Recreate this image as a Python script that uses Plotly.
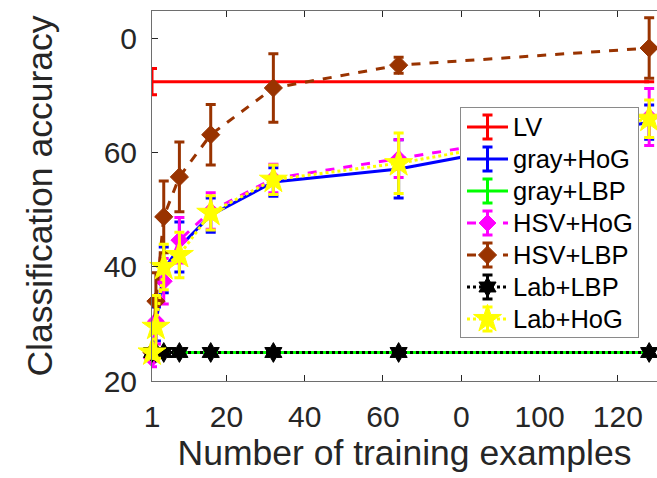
import plotly.graph_objects as go

# ---------------- data ----------------
train_examples = [1, 2, 4, 8, 16, 32, 64, 128]

lv_x = [1, 128]
lv_acc = [72.5, 72.5]
lv_err = [2.3, 0.0]

gray_hog = [25.0, 30.0, 39.5, 43.5, 49.1, 54.9, 57.2, 65.4]
gray_hog_err = [0.5, 3.0, 4.0, 4.4, 3.0, 2.5, 5.1, 3.0]

gray_lbp = [25.0, 25.0, 25.0, 25.0, 25.0, 25.0, 25.0, 25.0]
gray_lbp_err = [0.0, 0.0, 0.0, 0.0, 0.0, 0.0, 0.0, 0.0]

hsv_hog = [24.0, 30.5, 37.5, 44.7, 49.8, 55.5, 59.0, 66.3]
hsv_hog_err = [1.5, 4.0, 4.0, 4.0, 3.2, 2.5, 3.3, 5.0]

hsv_lbp = [25.0, 34.0, 48.8, 55.8, 63.2, 71.4, 75.4, 78.4]
hsv_lbp_err = [1.0, 5.0, 6.3, 6.1, 5.3, 6.0, 1.4, 5.3]

lab_lbp = [25.0, 25.0, 25.0, 25.0, 25.0, 25.0, 25.0, 25.0]
lab_lbp_err = [0.0, 0.0, 0.0, 0.0, 0.0, 0.0, 0.0, 0.0]

lab_hog = [25.0, 29.5, 40.0, 42.1, 49.5, 55.3, 58.2, 66.0]
lab_hog_err = [1.0, 5.5, 4.0, 4.0, 3.0, 2.6, 5.3, 3.3]

x_tickvals = [1, 20, 40, 60, 80, 100, 120]
x_ticktext = ["1", "20", "40", "60", "0", "100", "120"]
y_tickvals = [20, 40, 60, 80]
y_ticktext = ["20", "40", "60", "0"]

series_names = ["LV", "gray+HoG", "gray+LBP", "HSV+HoG", "HSV+LBP", "Lab+LBP", "Lab+HoG"]

# ---------------- styles ----------------
FONT = "Liberation Sans, Arial, Helvetica, sans-serif"
styles = {
    "LV":       dict(color="#FF0000", dash="solid", symbol=None, size=0),
    "gray+HoG": dict(color="#0000FF", dash="solid", symbol=None, size=0),
    "gray+LBP": dict(color="#00FF00", dash="solid", symbol=None, size=0),
    "HSV+HoG":  dict(color="#FF00FF", dash="dash", symbol="diamond", size=13),
    "HSV+LBP":  dict(color="#993300", dash="dash", symbol="diamond", size=14),
    "Lab+LBP":  dict(color="#000000", dash="dot", symbol="hexagram", size=15),
    "Lab+HoG":  dict(color="#FFFF00", dash="dot", symbol="star", size=21),
}
data_map = {
    "LV": (lv_x, lv_acc, lv_err),
    "gray+HoG": (train_examples, gray_hog, gray_hog_err),
    "gray+LBP": (train_examples, gray_lbp, gray_lbp_err),
    "HSV+HoG": (train_examples, hsv_hog, hsv_hog_err),
    "HSV+LBP": (train_examples, hsv_lbp, hsv_lbp_err),
    "Lab+LBP": (train_examples, lab_lbp, lab_lbp_err),
    "Lab+HoG": (train_examples, lab_hog, lab_hog_err),
}

fig = go.Figure()

for name in series_names:
    xs, ys, es = data_map[name]
    st = styles[name]
    mode = "lines+markers" if st["symbol"] else "lines"
    marker = dict(color=st["color"], size=st["size"], symbol=st["symbol"] or "circle",
                  line=dict(color=st["color"], width=1))
    fig.add_trace(go.Scatter(
        x=xs, y=ys, mode=mode, name=name, showlegend=False,
        line=dict(color=st["color"], width=3, dash=st["dash"]),
        marker=marker,
        error_y=dict(type="data", array=es, color=st["color"], thickness=3, width=5, visible=True),
        cliponaxis=False,
        xaxis="x", yaxis="y",
    ))

# ---------------- legend drawn in an inset axes ----------------
W, H = 657, 478
ml, mr, mt, mb = 152, 0, 11, 97
pw, ph = W - ml - mr, H - mt - mb
box_l, box_r, box_t, box_b = 461, 638, 108, 337
dx0, dx1 = (box_l - ml) / pw, (box_r - ml) / pw
dy0, dy1 = (H - mb - box_b) / ph, (H - mb - box_t) / ph
box_h = box_b - box_t
first_y, step = 127, 32

fig.add_trace(go.Scatter(x=[0, 1, 1, 0, 0], y=[0, 0, box_h, box_h, 0], fill="toself",
                         fillcolor="white", mode="lines", line=dict(width=0),
                         showlegend=False, hoverinfo="skip", xaxis="x2", yaxis="y2"))

sym_x0, sym_x1 = (467 - box_l) / (box_r - box_l), (508 - box_l) / (box_r - box_l)
sym_xc = (sym_x0 + sym_x1) / 2
text_x = (511 - box_l) / (box_r - box_l)

for i, name in enumerate(series_names):
    st = styles[name]
    yy = box_b - (first_y + step * i)
    fig.add_trace(go.Scatter(x=[sym_x0, sym_x1], y=[yy, yy], mode="lines",
                             line=dict(color=st["color"], width=3, dash=st["dash"]),
                             showlegend=False, hoverinfo="skip", xaxis="x2", yaxis="y2"))
    mk = dict(color=st["color"], size=st["size"] if st["symbol"] else 1,
              symbol=st["symbol"] or "circle", line=dict(color=st["color"], width=1))
    fig.add_trace(go.Scatter(x=[sym_xc], y=[yy], mode="markers", marker=mk,
                             error_y=dict(type="data", array=[12], color=st["color"],
                                          thickness=3, width=5),
                             showlegend=False, hoverinfo="skip", xaxis="x2", yaxis="y2"))
    fig.add_annotation(x=text_x, y=yy, xref="x2", yref="y2", text=name, showarrow=False,
                       xanchor="left", yanchor="middle",
                       font=dict(family=FONT, size=25.5, color="#000000"))

axis_common = dict(showgrid=False, zeroline=False, showline=True, linecolor="#6e6e6e",
                   linewidth=1, ticks="inside", ticklen=6, tickcolor="#262626",
                   tickfont=dict(family=FONT, size=30, color="#262626"))

fig.update_layout(
    width=W, height=H,
    margin=dict(l=ml, r=mr, t=mt, b=mb),
    paper_bgcolor="white", plot_bgcolor="white",
    font=dict(family=FONT, color="#262626"),
    xaxis=dict(range=[1, 130], tickvals=x_tickvals, ticktext=x_ticktext, mirror="ticks",
               ticklabelstandoff=9,
               title=dict(text="Number of training examples",
                          font=dict(family=FONT, size=35.5, color="#262626"), standoff=8),
               **axis_common),
    yaxis=dict(range=[20, 84.9], tickvals=y_tickvals, ticktext=y_ticktext, mirror=False,
               ticklabelstandoff=8,
               title=dict(text="Classification accuracy",
                          font=dict(family=FONT, size=35.5, color="#262626"), standoff=40),
               **axis_common),
    xaxis2=dict(domain=[dx0, dx1], range=[0, 1], anchor="y2", showgrid=False, zeroline=False,
                showticklabels=False, ticks="", showline=True, mirror=True,
                linecolor="#8a8a8a", linewidth=1, fixedrange=True),
    yaxis2=dict(domain=[dy0, dy1], range=[0, box_h], anchor="x2", showgrid=False, zeroline=False,
                showticklabels=False, ticks="", showline=True, mirror=True,
                linecolor="#8a8a8a", linewidth=1, fixedrange=True),
    showlegend=False,
)

fig.write_html("out.html")
